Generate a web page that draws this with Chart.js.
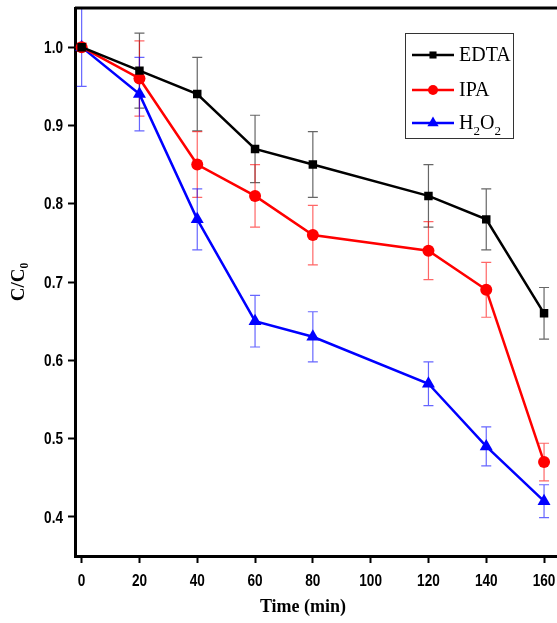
<!DOCTYPE html>
<html>
<head>
<meta charset="utf-8">
<script src="https://cdn.jsdelivr.net/npm/chart.js@4.4.1/dist/chart.umd.min.js"></script>
<style>
html, body { margin: 0; padding: 0; background: #fff; overflow: hidden; }
</style>
</head>
<body>
<canvas id="c" width="566" height="623"></canvas>
<script>
const times = [0, 20, 40, 60, 80, 120, 140, 160];
const edta = [1.0, 0.97, 0.94, 0.87, 0.85, 0.81, 0.78, 0.66];
const ipa = [1.0, 0.96, 0.85, 0.81, 0.76, 0.74, 0.69, 0.47];
const h2o2 = [1.0, 0.94, 0.78, 0.65, 0.63, 0.57, 0.49, 0.42];
const edtaErr = [0.005, 0.048, 0.047, 0.043, 0.042, 0.04, 0.039, 0.033];
const ipaErr = [0.005, 0.048, 0.042, 0.04, 0.038, 0.037, 0.035, 0.024];
const h2o2Err = [0.05, 0.047, 0.039, 0.033, 0.032, 0.028, 0.025, 0.021];
const xTicks = [0, 20, 40, 60, 80, 100, 120, 140, 160];
const yTicks = [0.4, 0.5, 0.6, 0.7, 0.8, 0.9, 1.0];

const serif = '"Liberation Serif", "Times New Roman", serif';

function series(label, values, errs, color, style, r) {
    return {
        label: label,
        data: times.map((t, i) => ({ x: t, y: values[i] })),
        errs: errs,
        borderColor: color,
        backgroundColor: color,
        borderWidth: 2.5,
        pointStyle: style,
        pointRadius: r,
        pointBorderWidth: 0,
        tension: 0,
    };
}

const errorBars = {
    id: 'errorBars',
    beforeDatasetsDraw(chart) {
        const ctx = chart.ctx;
        const ys = chart.scales.y;
        chart.data.datasets.forEach((ds, di) => {
            const meta = chart.getDatasetMeta(di);
            ctx.save();
            ctx.strokeStyle = ds.borderColor;
            ctx.globalAlpha = 0.6;
            ctx.lineWidth = 1.2;
            meta.data.forEach((pt, i) => {
                const v = ds.data[i].y, e = ds.errs[i];
                const top = ys.getPixelForValue(v + e);
                const bot = ys.getPixelForValue(v - e);
                ctx.beginPath();
                ctx.moveTo(pt.x, top); ctx.lineTo(pt.x, bot);
                ctx.moveTo(pt.x - 5, top); ctx.lineTo(pt.x + 5, top);
                ctx.moveTo(pt.x - 5, bot); ctx.lineTo(pt.x + 5, bot);
                ctx.stroke();
            });
            ctx.restore();
        });
    }
};

// narrow bold tick labels (like Arial Narrow in the original) + x title
const narrowTicks = {
    id: 'narrowTicks',
    afterDraw(chart) {
        const ctx = chart.ctx;
        const xs = chart.scales.x, ys = chart.scales.y;
        const sx = 0.8;
        ctx.save();
        ctx.fillStyle = '#000';
        ctx.font = 'bold 17px "Liberation Sans", Arial';
        ctx.textBaseline = 'middle';
        ctx.textAlign = 'center';
        xTicks.forEach((v) => {
            const px = xs.getPixelForValue(v);
            ctx.save();
            ctx.translate(px, 581);
            ctx.scale(sx, 1);
            ctx.fillText(String(v), 0, 0);
            ctx.restore();
        });
        ctx.textAlign = 'right';
        yTicks.forEach((v) => {
            const py = ys.getPixelForValue(v);
            ctx.save();
            ctx.translate(ys.right - 12, py + 1);
            ctx.scale(sx, 1);
            ctx.fillText(v.toFixed(1), 0, 0);
            ctx.restore();
        });
        ctx.textAlign = 'center';
        ctx.font = 'bold 18px ' + serif;
        ctx.fillText('Time (min)', 303, 607);
        ctx.restore();
    }
};

const legendBox = {
    id: 'legendBox',
    afterDraw(chart) {
        const ctx = chart.ctx;
        ctx.save();
        ctx.strokeStyle = '#333';
        ctx.lineWidth = 1;
        ctx.strokeRect(405.5, 33.5, 108, 105);
        const rows = [55, 90, 123];
        chart.data.datasets.forEach((ds, i) => {
            const y = rows[i];
            ctx.strokeStyle = ds.borderColor;
            ctx.fillStyle = ds.borderColor;
            ctx.lineWidth = 2.5;
            ctx.beginPath();
            ctx.moveTo(412, y); ctx.lineTo(454, y);
            ctx.stroke();
            Chart.helpers.drawPoint(ctx, { pointStyle: ds.pointStyle, radius: ds.pointRadius - 1, borderWidth: 0 }, 433, y);
            ctx.fillStyle = '#000';
            ctx.textBaseline = 'middle';
            ctx.font = '20px ' + serif;
            if (i < 2) {
                ctx.fillText(ds.label, 459, y + 1);
            } else {
                let x = 459;
                const sub = '13px ' + serif;
                ['H', '2', 'O', '2'].forEach((s, k) => {
                    ctx.font = (k % 2 ? sub : '20px ' + serif);
                    ctx.fillText(s, x, y + 1 + (k % 2 ? 8 : 0));
                    x += ctx.measureText(s).width;
                });
            }
        });
        ctx.restore();
    }
};

const axisGrid = { display: true, drawOnChartArea: false, drawTicks: true, tickLength: 7, tickWidth: 2, tickColor: '#000' };

new Chart(document.getElementById('c'), {
    type: 'line',
    data: {
        datasets: [
            series('EDTA', edta, edtaErr, '#000000', 'rect', 6),
            series('IPA', ipa, ipaErr, '#ff0000', 'circle', 6),
            series('H2O2', h2o2, h2o2Err, '#0000ff', 'triangle', 7.5),
        ],
    },
    options: {
        responsive: false,
        animation: false,
        layout: { padding: { top: 8, right: 7, left: 0, bottom: 0 } },
        plugins: { legend: { display: false }, tooltip: { enabled: false } },
        scales: {
            x: {
                type: 'linear',
                min: -2.3,
                max: 165,
                afterBuildTicks: (s) => { s.ticks = xTicks.map((v) => ({ value: v })); },
                afterFit: (s) => { s.height = 67; },
                grid: axisGrid,
                border: { display: true, color: '#000', width: 3 },
                ticks: { display: false },
                title: { display: false },
            },
            y: {
                min: 0.35,
                max: 1.05,
                afterBuildTicks: (s) => { s.ticks = yTicks.map((v) => ({ value: v })); },
                afterFit: (s) => { s.width = 75; },
                grid: axisGrid,
                border: { display: true, color: '#000', width: 3 },
                ticks: { display: false },
                title: { display: true, text: 'C/C₀', color: '#000', font: { family: serif, size: 19, weight: 'bold' }, padding: { top: 8, bottom: 8 } },
            },
        },
    },
    plugins: [errorBars, narrowTicks, legendBox, {
        id: 'frame',
        afterDatasetsDraw(chart) {
            const a = chart.chartArea, ctx = chart.ctx;
            ctx.save();
            ctx.strokeStyle = '#000';
            ctx.lineWidth = 3;
            ctx.beginPath();
            ctx.moveTo(a.left, a.top); ctx.lineTo(a.right, a.top); ctx.lineTo(a.right, a.bottom);
            ctx.stroke();
            ctx.restore();
        }
    }],
});
</script>
</body>
</html>
